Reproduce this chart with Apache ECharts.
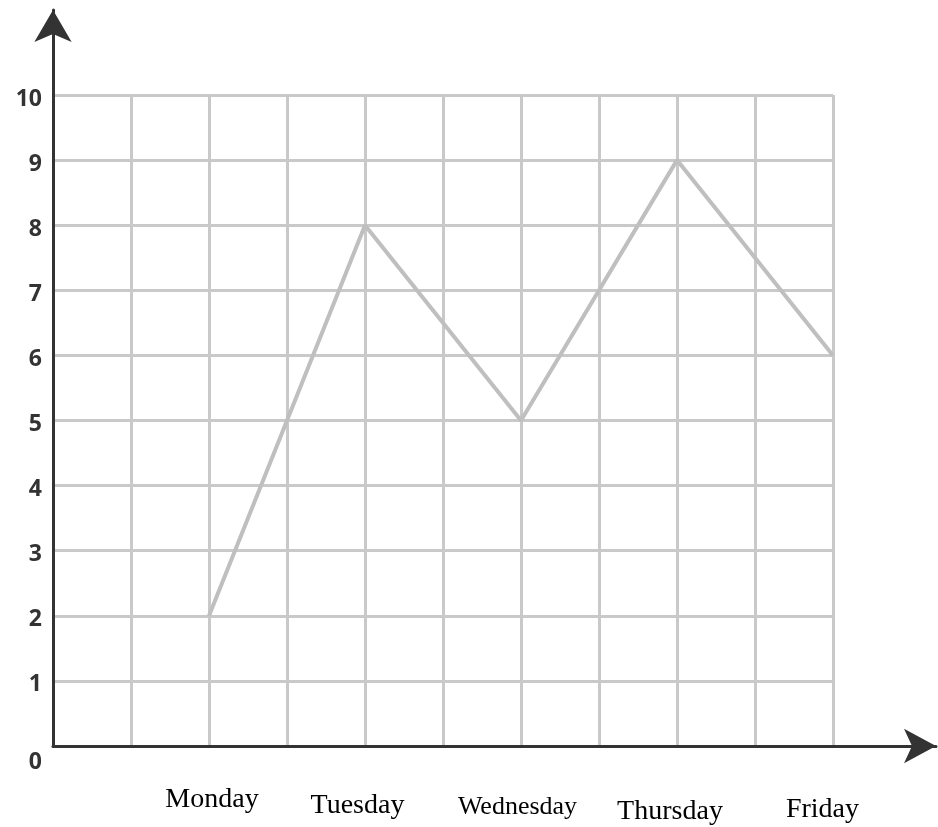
<!DOCTYPE html>
<html>
<head>
<meta charset="utf-8">
<script src="https://cdn.jsdelivr.net/npm/echarts@6/dist/echarts.min.js"></script>
<style>html,body{margin:0;padding:0;background:#fff}#c{width:938px;height:827px}</style>
</head>
<body>
<div id="c"></div>
<script>
const days = ['Monday', 'Tuesday', 'Wednesday', 'Thursday', 'Friday'];
const dayPositions = [2, 4, 6, 8, 10];
const values = [2, 8, 5, 9, 6];
const yTicks = [0, 1, 2, 3, 4, 5, 6, 7, 8, 9, 10];

const chart = echarts.init(document.getElementById('c'), null, {renderer: 'canvas'});
const dayRich = {
  d0: {fontSize: 28, padding: [0, 0, 0, 6]},
  d1: {fontSize: 28, padding: [6, 15, 0, 0]},
  d2: {fontSize: 26, padding: [8, 7, 0, 0]},
  d3: {fontSize: 28, padding: [12, 14, 0, 0]},
  d4: {fontSize: 28, padding: [10, 21, 0, 0]}
};
const yStyle = {fontFamily: 'Open Sans', fontWeight: 'bold', fontSize: 23, color: '#333'};
chart.setOption({
  animation: false,
  backgroundColor: '#fff',
  grid: [
    {left: 53, right: 105, top: 95, bottom: 81},
    {left: 53, right: 2, top: 10, bottom: 81}
  ],
  xAxis: [
    {
      type: 'value', gridIndex: 0, min: 0, max: 10, interval: 1,
      axisLine: {show: false}, axisTick: {show: false},
      splitLine: {show: true, lineStyle: {color: '#c9c9c9', width: 3}},
      axisLabel: {
        margin: 40, color: '#000', fontFamily: 'Liberation Serif', fontSize: 28,
        rich: dayRich,
        formatter: function (v) {
          const i = dayPositions.indexOf(v);
          return i >= 0 ? '{d' + i + '|' + days[i] + '}' : '';
        }
      }
    },
    {
      type: 'value', gridIndex: 1, min: 0, max: 1,
      axisLine: {show: true, symbol: ['none', 'arrow'], symbolSize: [26, 32], lineStyle: {color: '#333', width: 3}},
      axisTick: {show: false}, axisLabel: {show: false}, splitLine: {show: false}
    }
  ],
  yAxis: [
    {
      type: 'value', gridIndex: 0, min: 0, max: 10, interval: 1,
      axisLine: {show: false}, axisTick: {show: false},
      splitLine: {show: true, lineStyle: {color: '#c9c9c9', width: 3}},
      axisLabel: {
        margin: 11, ...yStyle,
        rich: {
          n: {...yStyle, padding: [8, 0, 0, 0]},
          z: {...yStyle, padding: [32, 0, 0, 0]}
        },
        formatter: function (v) {
          if (yTicks.indexOf(v) < 0) return '';
          return v === 0 ? '{z|0}' : '{n|' + v + '}';
        }
      }
    },
    {
      type: 'value', gridIndex: 1, min: 0, max: 1,
      axisLine: {show: true, symbol: ['none', 'arrow'], symbolSize: [28, 32], lineStyle: {color: '#333', width: 3}},
      axisTick: {show: false}, axisLabel: {show: false}, splitLine: {show: false}
    }
  ],
  series: [{
    type: 'line', xAxisIndex: 0, yAxisIndex: 0,
    data: dayPositions.map((x, i) => [x, values[i]]),
    symbol: 'none',
    lineStyle: {color: '#bfbfbf', width: 4}
  }]
});
</script>
</body>
</html>
